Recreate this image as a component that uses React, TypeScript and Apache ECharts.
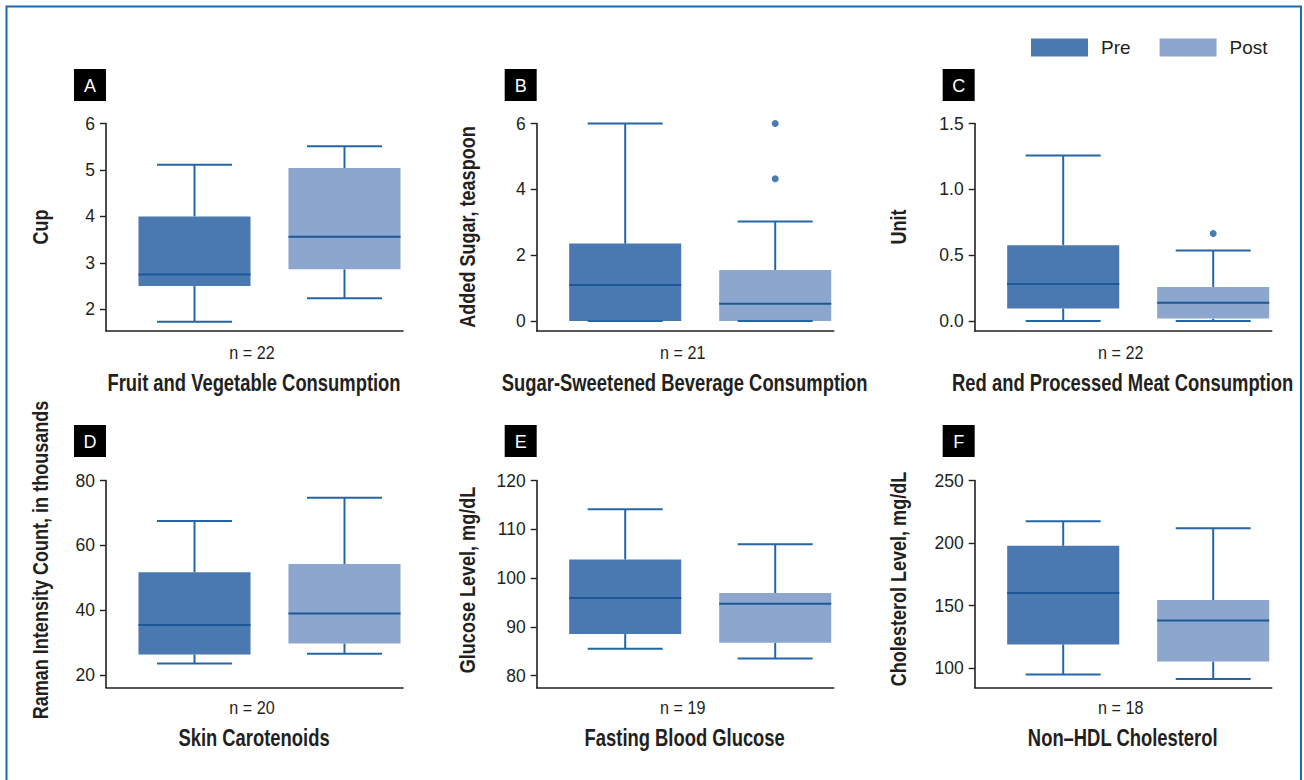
import React, { useEffect, useRef } from 'react';
import * as echarts from 'echarts';

// ---------- data ----------
const groups = ['Pre', 'Post'];
// each box: [min, Q1, median, Q3, max]
const fruitPre = [1.73, 2.5, 2.75, 4.0, 5.11];
const fruitPost = [2.24, 2.86, 3.56, 5.04, 5.51];
const sugarPre = [0, 0, 1.09, 2.35, 6.0];
const sugarPost = [0, 0, 0.52, 1.55, 3.02];
const sugarPostOutliers = [4.32, 6.0];
const meatPre = [0, 0.094, 0.281, 0.576, 1.257];
const meatPost = [0, 0.018, 0.139, 0.259, 0.535];
const meatPostOutliers = [0.664];
const skinPre = [23.5, 26.3, 35.4, 51.7, 67.5];
const skinPost = [26.5, 29.7, 38.9, 54.2, 74.7];
const glucosePre = [85.5, 88.5, 95.9, 103.8, 114.1];
const glucosePost = [83.5, 86.7, 94.7, 96.9, 106.9];
const cholPre = [94.9, 118.9, 160.0, 197.8, 217.5];
const cholPost = [91.2, 105.3, 138.1, 154.4, 211.9];

const fruitTicks = [2, 3, 4, 5, 6];
const sugarTicks = [0, 2, 4, 6];
const meatTicks = [0, 0.5, 1.0, 1.5];
const skinTicks = [20, 40, 60, 80];
const glucoseTicks = [80, 90, 100, 110, 120];
const cholTicks = [100, 150, 200, 250];

const panelLetters = ['A', 'B', 'C', 'D', 'E', 'F'];
const panelTitles = [
  'Fruit and Vegetable Consumption',
  'Sugar-Sweetened Beverage Consumption',
  'Red and Processed Meat Consumption',
  'Skin Carotenoids',
  'Fasting Blood Glucose',
  'Non\u2013HDL Cholesterol',
];
const yNames = [
  'Cup',
  'Added Sugar, teaspoon',
  'Unit',
  'Raman Intensity Count, in thousands',
  'Glucose Level, mg/dL',
  'Cholesterol Level, mg/dL',
];
const sampleSizes = [22, 21, 22, 20, 19, 18];

const panels = [
  { pre: fruitPre, post: fruitPost, outliers: [] as number[], ticks: fruitTicks, min: 1.533, max: 6, dec: 0 },
  { pre: sugarPre, post: sugarPost, outliers: sugarPostOutliers, ticks: sugarTicks, min: -0.305, max: 6, dec: 0 },
  { pre: meatPre, post: meatPost, outliers: meatPostOutliers, ticks: meatTicks, min: -0.076, max: 1.5, dec: 1 },
  { pre: skinPre, post: skinPost, outliers: [] as number[], ticks: skinTicks, min: 16.08, max: 80, dec: 0 },
  { pre: glucosePre, post: glucosePost, outliers: [] as number[], ticks: glucoseTicks, min: 77.54, max: 120, dec: 0 },
  { pre: cholPre, post: cholPost, outliers: [] as number[], ticks: cholTicks, min: 84.5, max: 250, dec: 0 },
];

// ---------- style / layout ----------
const PRE = '#4a78b0';
const POST = '#8ca6cd';
const LINE = '#2466a6';
const MED = '#1b5895';
const DOT = '#1a5a9a';
const INK = '#231f20';
const SANS = "'Liberation Sans', Arial, sans-serif";

const axisXs = [106, 536.7, 974.7];
const rowTops = [123.5, 480.5];
const rowHeights = [207.5, 207];
const gridW = 297;
const squareTops = [69, 425];
const nYs = [353, 708];
const titleYs = [383, 737.5];
const yNameXs = [40, 467, 898];
const yNameYs = [227, 227, 227, 560, 580, 579];

const makeRender = (fill: string) => (_params: any, api: any) => {
  const i = api.value(0);
  const vals = [1, 2, 3, 4, 5].map((k) => api.value(k));
  const band = api.size([1, 0])[0];
  const cx = api.coord([i, vals[2]])[0];
  const y = vals.map((v) => api.coord([i, v])[1]);
  const bw = band * 0.747;
  const cw = band * 0.5;
  const ls = { stroke: LINE, lineWidth: 2 };
  return {
    type: 'group',
    children: [
      { type: 'line', shape: { x1: cx, y1: y[3], x2: cx, y2: y[4] }, style: ls },
      { type: 'line', shape: { x1: cx, y1: y[1], x2: cx, y2: y[0] }, style: ls },
      { type: 'rect', shape: { x: cx - bw / 2, y: y[3], width: bw, height: y[1] - y[3] }, style: { fill } },
      { type: 'line', shape: { x1: cx - cw / 2, y1: y[4], x2: cx + cw / 2, y2: y[4] }, style: ls },
      { type: 'line', shape: { x1: cx - cw / 2, y1: y[0], x2: cx + cw / 2, y2: y[0] }, style: ls },
      { type: 'line', shape: { x1: cx - bw / 2, y1: y[2], x2: cx + bw / 2, y2: y[2] }, style: { stroke: MED, lineWidth: 2 } },
    ],
  };
};

function narrowText(text: string, x: number, y: number, font: string, scaleX: number, extra: any = {}) {
  return {
    type: 'text',
    x,
    y,
    scaleX,
    silent: true,
    ...extra,
    style: { text, fill: INK, font, align: 'center', verticalAlign: 'middle' },
  };
}

function buildOption() {
  const grid: any[] = [];
  const xAxis: any[] = [];
  const yAxis: any[] = [];
  const series: any[] = [];
  const graphic: any[] = [];

  graphic.push({
    type: 'rect',
    shape: { x: 6.5, y: 6.5, width: 1294.5, height: 800 },
    style: { fill: 'none', stroke: '#1f6aa8', lineWidth: 2 },
    silent: true,
  });

  panels.forEach((p, k) => {
    const row = Math.floor(k / 3);
    const col = k % 3;
    const ax = axisXs[col];
    grid.push({ left: ax, top: rowTops[row], width: gridW, height: rowHeights[row] });
    xAxis.push({
      gridIndex: k,
      type: 'value',
      min: -0.59,
      max: 1.39,
      axisLine: { show: true, onZero: false, lineStyle: { color: INK, width: 1.6 } },
      axisTick: { show: false },
      axisLabel: { show: false },
      splitLine: { show: false },
    });
    yAxis.push({
      gridIndex: k,
      type: 'value',
      min: p.min,
      max: p.max,
      axisLine: { show: true, onZero: false, lineStyle: { color: INK, width: 1.6 } },
      axisTick: { show: true, length: 6, customValues: p.ticks, lineStyle: { color: INK, width: 1.4 } },
      axisLabel: {
        customValues: p.ticks,
        margin: 11,
        color: INK,
        fontSize: 17.5,
        fontFamily: SANS,
        formatter: (v: number) => v.toFixed(p.dec),
      },
      splitLine: { show: false },
    });
    series.push({
      type: 'custom',
      name: groups[0],
      xAxisIndex: k,
      yAxisIndex: k,
      renderItem: makeRender(PRE),
      itemStyle: { color: PRE },
      data: [[0, ...p.pre]],
      encode: { x: 0, y: [1, 2, 3, 4, 5] },
      silent: true,
    });
    series.push({
      type: 'custom',
      name: groups[1],
      xAxisIndex: k,
      yAxisIndex: k,
      renderItem: makeRender(POST),
      itemStyle: { color: POST },
      data: [[1, ...p.post]],
      encode: { x: 0, y: [1, 2, 3, 4, 5] },
      silent: true,
    });
    if (p.outliers.length) {
      series.push({
        type: 'scatter',
        xAxisIndex: k,
        yAxisIndex: k,
        symbolSize: 7,
        itemStyle: { color: DOT },
        data: p.outliers.map((v) => [1, v]),
        silent: true,
      });
    }

    // panel letter square
    graphic.push({
      type: 'rect',
      shape: { x: ax - 32, y: squareTops[row], width: 32, height: 32 },
      style: { fill: '#000' },
      silent: true,
    });
    graphic.push({
      type: 'text',
      x: ax - 16,
      y: squareTops[row] + 16.5,
      style: {
        text: panelLetters[k],
        fill: '#fff',
        font: `18px ${SANS}`,
        align: 'center',
        verticalAlign: 'middle',
      },
      silent: true,
    });
    // y axis name
    graphic.push(
      narrowText(yNames[k], yNameXs[col], yNameYs[k], `bold 22px ${SANS}`, 0.82, { rotation: Math.PI / 2 })
    );
    // n label
    graphic.push(narrowText(`n = ${sampleSizes[k]}`, ax + 146, nYs[row], `19px ${SANS}`, 0.85));
    // title
    graphic.push(narrowText(panelTitles[k], ax + 148, titleYs[row], `bold 23px ${SANS}`, 0.8));
  });

  return {
    animation: false,
    backgroundColor: '#fff',
    legend: {
      data: [
        { name: groups[0], itemStyle: { color: PRE } },
        { name: groups[1], itemStyle: { color: POST } },
      ],
      left: 1031,
      top: 38,
      padding: 0,
      icon: 'rect',
      itemWidth: 57,
      itemHeight: 18,
      itemGap: 29,
      selectedMode: false,
      textStyle: { fontSize: 19, color: INK, fontFamily: SANS, padding: [0, 0, 0, 8] },
    },
    grid,
    xAxis,
    yAxis,
    series,
    graphic,
  };
}

export default function App() {
  const ref = useRef<HTMLDivElement>(null);
  useEffect(() => {
    if (!ref.current) return;
    const chart = echarts.init(ref.current, undefined, { renderer: 'svg' });
    chart.setOption(buildOption() as any);
    return () => chart.dispose();
  }, []);
  return (
    <div
      ref={ref}
      style={{ position: 'absolute', left: 0, top: 0, width: 1304, height: 780, background: '#fff' }}
    />
  );
}
